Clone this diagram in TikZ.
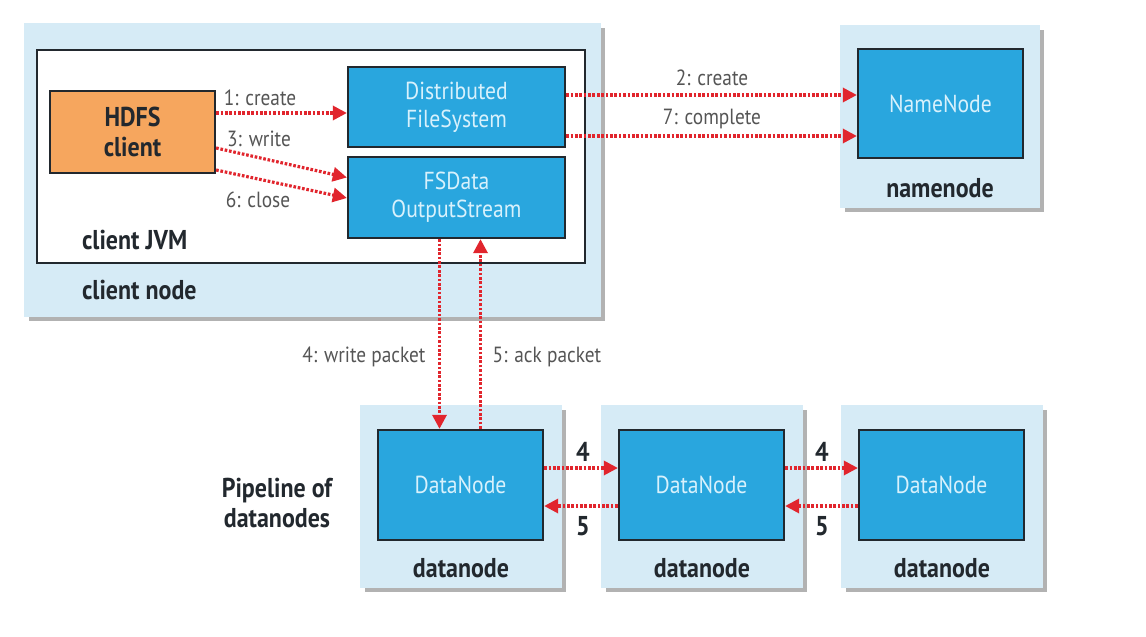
\documentclass[tikz,border=0pt]{standalone}
\usepackage{fontspec}
\setmainfont{PT Sans}[FakeStretch=0.88]
\usetikzlibrary{calc,shadows,arrows.meta}
\definecolor{paleblue}{HTML}{D6EBF6}
\definecolor{boxblue}{HTML}{29A6DE}
\definecolor{boxtext}{HTML}{D8F1FC}
\definecolor{clientorange}{HTML}{F6A65E}
\definecolor{flowred}{HTML}{E1252D}
\definecolor{labelgray}{HTML}{555555}
\definecolor{darktext}{HTML}{22282E}
\tikzset{
	hostbox/.style={fill=paleblue, draw=none, inner sep=0pt, drop shadow={shadow xshift=0.09cm, shadow yshift=-0.09cm, fill=black, opacity=0.3}},
	procbox/.style={draw=darktext, line width=1.3pt, fill=boxblue, text=boxtext, align=center, inner sep=0pt, font=\fontsize{14}{16}\selectfont},
	flow/.style={draw=flowred, line width=1.8pt, dash pattern=on 1.5pt off 1pt, -{Triangle[length=8pt,width=8pt,fill=flowred]}},
	steplabel/.style={text=labelgray, inner sep=1pt, font=\fontsize{12.5}{14}\selectfont},
	hostlabel/.style={text=darktext, inner sep=1pt, font=\bfseries\fontsize{15.5}{17}\selectfont, align=center},
}

\begin{document}
\begin{tikzpicture}[x=0.02cm, y=-0.02cm]
			%%%%% START %%%%%
			\useasboundingbox (0,0) rectangle (1146,636);
			
			% client node
			\node[hostbox, minimum width=11.54cm, minimum height=5.88cm] (clientnode) at (312.5,170) {};
			\node[draw=darktext, fill=white, line width=1.3pt, minimum width=10.96cm, minimum height=4.26cm] (jvm) at (311,156.5) {};
			\node[procbox, fill=clientorange, text=darktext, font=\bfseries\fontsize{15.5}{17}\selectfont, minimum width=3.3cm, minimum height=1.64cm] (hdfs) at (132.5,132) {HDFS\\client};
			\node[procbox, minimum width=4.34cm, minimum height=1.6cm] (dfs) at (456.5,107) {Distributed\\FileSystem};
			\node[procbox, minimum width=4.34cm, minimum height=1.62cm] (fsdos) at (456.5,197.5) {FSData\\OutputStream};
			\node[hostlabel, anchor=west] (jvmlabel) at (80,240) {client JVM};
			\node[hostlabel, anchor=west] (clientlabel) at (80,290) {client node};
			
			% namenode
			\node[hostbox, minimum width=4cm, minimum height=3.66cm] (nnhost) at (940,116.5) {};
			\node[procbox, minimum width=3.3cm, minimum height=2.18cm] (namenode) at (940.5,103.5) {NameNode};
			\node[hostlabel] (nnlabel) at (940,188) {namenode};
			
			% datanodes
			\foreach \i/\x in {1/461,2/702,3/942}{
				\node[hostbox, minimum width=4.04cm, minimum height=3.66cm] (dnhost\i) at (\x,496.5) {};
				\node[procbox, minimum width=3.3cm, minimum height=2.2cm] (dn\i) at (\x-0.5,485) {DataNode};
				\node[hostlabel] (dnlabel\i) at (\x,568) {datanode};
			}
			\node[hostlabel] (pipeline) at (277,503) {Pipeline of\\datanodes};
			
			% client side calls
			\draw[flow] ($(hdfs.east)+(0,-19)$) coordinate (p1) -- (p1 -| dfs.west);
			\draw[flow] ($(hdfs.east)+(0,16)$) -- ($(fsdos.west)+(0,-20)$);
			\draw[flow] ($(hdfs.east)+(0,38)$) -- ($(fsdos.west)+(0,0.5)$);
			\node[steplabel] (l1) at (260,98) {1: create};
			\node[steplabel] (l3) at (259,139) {3: write};
			\node[steplabel] (l6) at (258,200) {6: close};
			
			% namenode calls
			\draw[flow] ($(dfs.east)+(0,-12)$) coordinate (p2) -- (p2 -| namenode.west);
			\draw[flow] ($(dfs.east)+(0,29)$) coordinate (p7) -- (p7 -| namenode.west);
			\node[steplabel] (l2) at (712,78) {2: create};
			\node[steplabel] (l7) at (712,119) {7: complete};
			
			% packets
			\draw[flow] ($(fsdos.south)+(-17,0)$) coordinate (p4) -- (p4 |- dn1.north);
			\draw[flow] ($(dn1.north)+(20,0)$) coordinate (p5) -- (p5 |- fsdos.south);
			\node[steplabel] (l4) at (364,357) {4: write packet};
			\node[steplabel] (l5) at (547,357) {5: ack packet};
			
			% pipeline
			\foreach \a/\b/\x in {1/2/583,2/3/822}{
				\draw[flow] ($(dn\a.east)+(0,-17)$) coordinate (q\a) -- (q\a -| dn\b.west);
				\draw[flow] ($(dn\b.west)+(0,21)$) coordinate (r\a) -- (r\a -| dn\a.east);
				\node[hostlabel] (fw\a) at (\x,452) {4};
				\node[hostlabel] (bw\a) at (\x,526) {5};
			}
			%%%%% END %%%%%
\end{tikzpicture}
\end{document}
